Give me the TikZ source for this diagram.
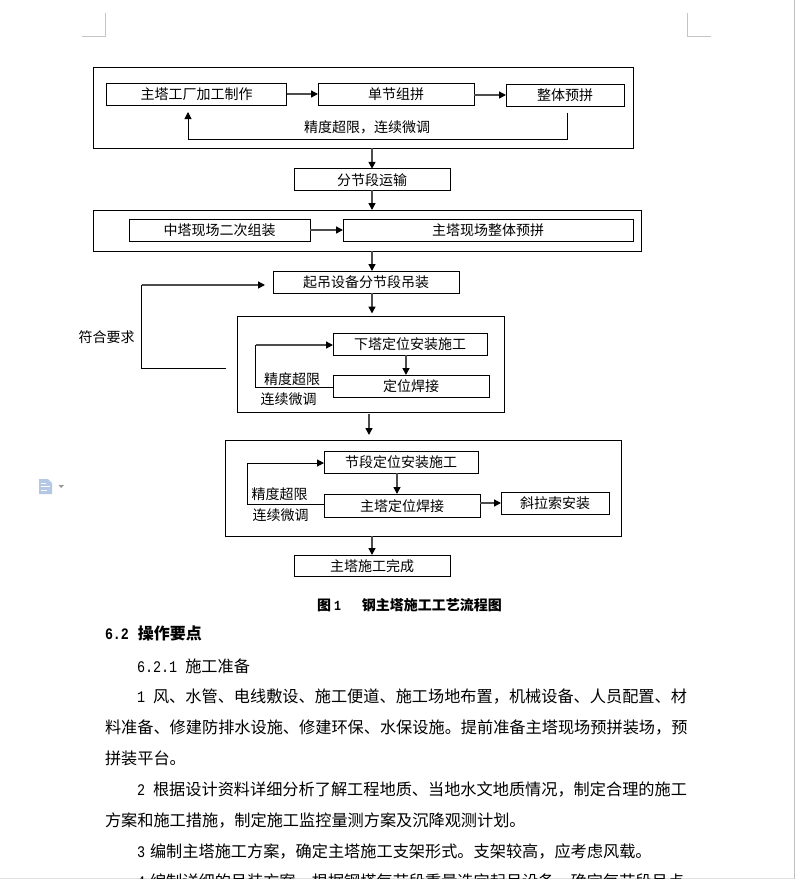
\documentclass[tikz,border=0pt]{standalone}
\usepackage{fontspec}
\usetikzlibrary{arrows.meta}
\setmainfont{Noto Sans CJK SC}
\newfontfamily\digitf[FakeStretch=0.83]{Liberation Mono}
\definecolor{marklc}{HTML}{C4C4C4}
\definecolor{iconb}{HTML}{B4C8E6}
\tikzset{
  flowbox/.style={draw=black,line width=1pt,inner sep=0pt,outer sep=0pt,align=center,font=\fontsize{14}{14}\selectfont,text height=12.5pt,text depth=1pt},
  framebox/.style={draw=black,line width=1pt,inner sep=0pt,outer sep=0pt},
  lbl/.style={inner sep=0pt,outer sep=0pt,font=\fontsize{14}{14}\selectfont,text height=12.5pt,text depth=1pt},
  wire/.style={draw=black,line width=1pt},
  arrowline/.style={draw=black!70,line width=1.4pt,-{Triangle[length=7pt,width=7pt,color=black,fill=black]}},
  feedback/.style={draw=black,line width=1pt,-{Triangle[length=7pt,width=7pt,color=black,fill=black]}},
  bodyline/.style={anchor=west,inner sep=0pt,outer sep=0pt,font=\fontsize{16.18}{16.18}\selectfont},
  headline/.style={anchor=west,inner sep=0pt,outer sep=0pt,font=\fontsize{16}{16}\selectfont\bfseries},
  cropmark/.style={draw=marklc,line width=1pt},
}
\newcommand{\dg}[1]{{\digitf #1}}
\begin{document}
\begin{tikzpicture}[x=1pt,y=-1pt]
\useasboundingbox (0,0) rectangle (795,879);
\fill[white] (0,0) rectangle (795,879);
\fill[black!12] (0,878) rectangle (795,879);
\draw[black!25,line width=1pt] (794.5,0) -- (794.5,879);
% crop marks
\draw[cropmark] (105.5,13) -- (105.5,36.5) -- (82,36.5);
\draw[cropmark] (687.5,13) -- (687.5,36.5) -- (711,36.5);
% doc icon
\fill[iconb] (39,479) -- (48,479) -- (52,483) -- (52,494) -- (39,494) -- cycle;
\draw[white,line width=.8pt] (41,483) -- (46,483) (41,486.5) -- (50,486.5) (41,490) -- (47,490);
\fill[black!40] (58.5,485) -- (64,485) -- (61.2,488) -- cycle;

% frames
\node[framebox,minimum width=540pt,minimum height=80.5pt] (f1) at (363,108) {};
\node[framebox,minimum width=548.5pt,minimum height=41pt] (f2) at (367.5,230.5) {};
\node[framebox,minimum width=267pt,minimum height=96pt] (f3) at (370.5,364.5) {};
\node[framebox,minimum width=396pt,minimum height=96pt] (f4) at (423,488) {};

% boxes
\node[flowbox,minimum width=180pt,minimum height=22pt] (a1) at (196.5,94) {主塔工厂加工制作};
\node[flowbox,minimum width=156pt,minimum height=22pt] (a2) at (396,94) {单节组拼};
\node[flowbox,minimum width=118pt,minimum height=22pt] (a3) at (565,95) {整体预拼};
\node[flowbox,minimum width=156pt,minimum height=21.5pt] (b) at (372,179.5) {分节段运输};
\node[flowbox,minimum width=181pt,minimum height=22pt] (c1) at (219.5,230) {中塔现场二次组装};
\node[flowbox,minimum width=290pt,minimum height=22pt] (c2) at (488,230) {主塔现场整体预拼};
\node[flowbox,minimum width=186pt,minimum height=22pt] (d) at (366,282) {起吊设备分节段吊装};
\node[flowbox,minimum width=154pt,minimum height=22pt] (e1) at (410,344) {下塔定位安装施工};
\node[flowbox,minimum width=156pt,minimum height=22pt] (e2) at (411,386) {定位焊接};
\node[flowbox,minimum width=154pt,minimum height=22pt] (g1) at (401,462) {节段定位安装施工};
\node[flowbox,minimum width=156pt,minimum height=23pt] (g2) at (402,505.5) {主塔定位焊接};
\node[flowbox,minimum width=108pt,minimum height=22pt] (g3) at (555,503) {斜拉索安装};
\node[flowbox,minimum width=156pt,minimum height=21pt] (h) at (372,565.5) {主塔施工完成};

% free-end coordinates
\coordinate (fbA) at (567.5,112.5);
\coordinate (fbAe) at (188,112);
\coordinate (fbD) at (265,285);
\coordinate (fbDc) at (141.5,285);
\coordinate (fbDs) at (226,368.5);
\coordinate (fbE) at (255.5,345);
\coordinate (in3) at (369,414);
\coordinate (in4) at (369,435);

% connectors
\draw[arrowline] (a1.east |- 0,94) -- (a2.west |- 0,94);
\draw[arrowline] (a2.east |- 0,95) -- (a3.west |- 0,95);
\draw[feedback] (fbA) |- (188,139) -- (fbAe);
\draw[arrowline] (f1.south -| 372,0) -- (b.north -| 372,0);
\draw[arrowline] (b.south) -- (f2.north -| b.south);
\draw[arrowline] (c1.east) -- (c2.west);
\draw[arrowline] (f2.south -| 372,0) -- (d.north -| 372,0);
\draw[arrowline] (d.south -| 372,0) -- (372,313.5);
\draw[wire] (fbDs) -- (141.5,368.5) -- (fbDc);
\draw[arrowline] (fbDc) -- (fbD);
\draw[arrowline] (e1.south -| 406,0) -- (e2.north -| 406,0);
\draw[wire] (e2.west |- 0,387) -- (255.5,387) -- (fbE);
\draw[arrowline] (fbE) -- (e1.west |- 0,345);
\draw[arrowline] (in3) -- (in4);
\draw[arrowline] (g1.south -| 397,0) -- (g2.north -| 397,0);
\draw[feedback] (g2.west |- 0,504) -- (247.5,504) |- (g1.west |- 0,463);
\draw[arrowline] (g2.east |- 0,503) -- (g3.west |- 0,503);
\draw[arrowline] (f4.south -| 372,0) -- (h.north -| 372,0);

% labels
\node[lbl] (t1) at (367,126.5) {精度超限，连续微调};
\node[lbl] (t2) at (106.5,337) {符合要求};
\node[lbl] (t3) at (292,378.5) {精度超限};
\node[lbl] (t4) at (288.5,399) {连续微调};
\node[lbl] (t5) at (279.5,493.5) {精度超限};
\node[lbl] (t6) at (280.5,514.5) {连续微调};

% caption and body text
\node[lbl,anchor=west,font=\fontsize{14}{14}\selectfont\bfseries] (cap) at (317,605) {图\hspace{3pt}\dg{1}\hspace{21pt}钢主塔施工工艺流程图};
\node[headline] (s1) at (105,633) {\dg{6.2}\hspace{9pt}操作要点};
\node[bodyline] (s2) at (137,666) {\dg{6.2.1}\hspace{8pt}施工准备};
\node[bodyline] (l1) at (137,697) {\dg{1}\hspace{8pt}风、水管、电线敷设、施工便道、施工场地布置，机械设备、人员配置、材};
\node[bodyline] (l2) at (105,728) {料准备、修建防排水设施、修建环保、水保设施。提前准备主塔现场预拼装场，预};
\node[bodyline] (l3) at (105,758.5) {拼装平台。};
\node[bodyline] (l4) at (137,789.5) {\dg{2}\hspace{8pt}根据设计资料详细分析了解工程地质、当地水文地质情况，制定合理的施工};
\node[bodyline] (l5) at (105,820.5) {方案和施工措施，制定施工监控量测方案及沉降观测计划。};
\node[bodyline] (l6) at (137,851.5) {\dg{3}\hspace{5pt}编制主塔施工方案，确定主塔施工支架形式。支架较高，应考虑风载。};
\begin{scope}
\clip (0,860) rectangle (795,878);
\node[bodyline] (l7) at (137,882) {\dg{4}\hspace{5pt}编制详细的吊装方案，根据钢塔每节段重量选定起吊设备，确定每节段吊点};
\end{scope}
\end{tikzpicture}
\end{document}
